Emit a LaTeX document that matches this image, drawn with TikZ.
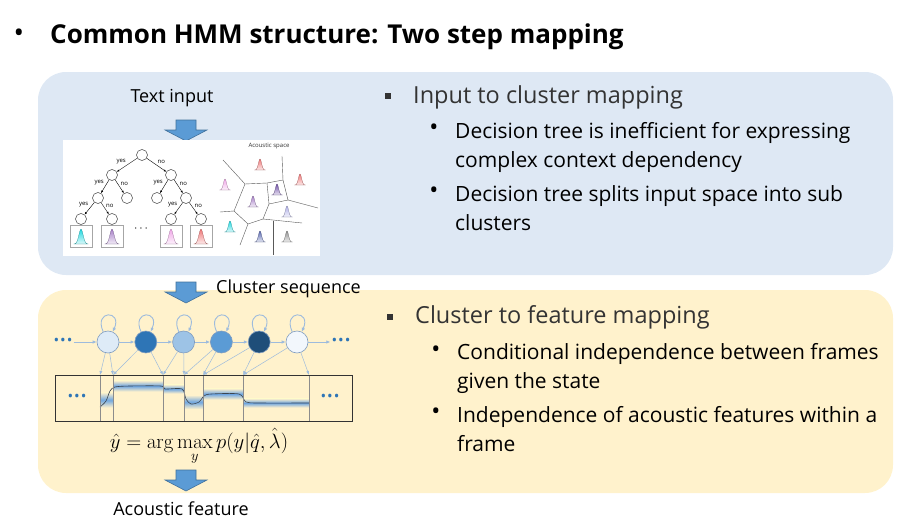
\documentclass[tikz,border=0pt]{standalone}
\usepackage[no-math]{fontspec}
\setmainfont{Open Sans}
\usepackage{amsmath}
\usetikzlibrary{arrows.meta}

\definecolor{panelblue}{HTML}{DEE8F4}
\definecolor{panelyellow}{HTML}{FFF2CC}
\definecolor{arrowfill}{HTML}{5B9BD5}
\definecolor{arrowline}{HTML}{41719C}
\definecolor{stateline}{HTML}{7F9CC0}
\definecolor{linkblue}{HTML}{9DBBDD}
\definecolor{dotblue}{HTML}{2E75B6}
\definecolor{bandblue}{HTML}{4A8FD8}
\definecolor{curvegray}{HTML}{3C4650}
\definecolor{st1}{HTML}{DEEBF7}
\definecolor{st2}{HTML}{2E75B6}
\definecolor{st3}{HTML}{9DC3E6}
\definecolor{st4}{HTML}{5B9BD5}
\definecolor{st5}{HTML}{1F4E79}
\definecolor{st6}{HTML}{F2F7FC}
\definecolor{gcyan}{HTML}{20D8E0}
\definecolor{gpurple}{HTML}{A880C8}
\definecolor{gpink}{HTML}{F0A8E8}
\definecolor{gsalmon}{HTML}{F07878}
\definecolor{gdeep}{HTML}{7050A8}
\definecolor{glav}{HTML}{B0B0E8}
\definecolor{gnavy}{HTML}{5868B0}
\definecolor{ggray}{HTML}{909090}

\tikzset{
  treenode/.style={circle, draw=black!75, fill=white, minimum size=11pt, inner sep=0pt, line width=0.5pt},
  treeedge/.style={-{Latex[length=2.5pt,width=2pt]}, line width=0.4pt},
  lbl/.style={font=\fontsize{6}{6}\selectfont, inner sep=1pt},
  leafbox/.style={draw=black!35, fill=white, minimum width=22pt, minimum height=22pt, inner sep=0pt},
  voronoi/.style={draw=black!65, line width=0.4pt},
  state/.style={circle, draw=stateline, minimum size=22pt, inner sep=0pt, line width=0.6pt},
  hmmarrow/.style={-{Latex[length=4pt,width=3.5pt]}, draw=linkblue, line width=0.9pt},
  maparrow/.style={-{Latex[length=4pt,width=3pt]}, draw=linkblue, line width=0.5pt},
  segline/.style={draw=black!45, line width=0.5pt},
  dotsnode/.style={text=dotblue, font=\fontsize{15}{15}\selectfont, inner sep=1pt},
  bul/.style={font=\fontsize{24}{24}\selectfont, inner sep=0pt},
  body/.style={anchor=base west, font=\fontsize{21}{24}\selectfont, inner sep=0pt},
  head/.style={anchor=base west, font=\fontsize{23.5}{28}\selectfont, text=black!80, inner sep=0pt},
  caption/.style={font=\fontsize{18}{21}\selectfont},
  sq/.style={fill=black!80, minimum size=5.5pt, inner sep=0pt},
  pics/blockarrow/.style={code={
    \filldraw[fill=arrowfill, draw=arrowline, line width=0.6pt]
      (-10,0) -- (10,0) -- (10,10) -- (21,10) -- (0,21) -- (-21,10) -- (-10,10) -- cycle;}},
}

% gaussian bump: [size], base x, base y, colour
\newcommand{\gbump}[4][1]{%
  \shade[top color=#4, bottom color=#4!15, draw=#4!60!black, line width=0.2pt]
    plot[domain=-5.5*#1:5.5*#1, samples=23] ({#2+\x},{#3-11*#1*exp(-(\x*\x)/(5*#1*#1))}) -- cycle;}

\begin{document}
\begin{tikzpicture}[x=1pt,y=-1pt]
\useasboundingbox (0,0) rectangle (916,530);

% title
\node[font=\fontsize{28}{28}\selectfont, inner sep=0pt] (tbullet) at (19,36) {•};
\node[anchor=base west, font=\bfseries\fontsize{26}{30}\selectfont, inner sep=0pt] (title) at (50,43) {Common HMM structure: Two step mapping};

% panels
\fill[panelblue, rounded corners=28pt] (38,72) rectangle (893,275);
\fill[panelyellow, rounded corners=28pt] (38,290) rectangle (893,493);

%% upper panel: input to cluster
\node[caption] (textin) at (172,98) {Text input};
\pic at (186,120) {blockarrow};
\fill[white] (63,140) rectangle (320,256);

\node[treenode] (root) at (142,155) {};
\node[treenode] (n1) at (112,175) {};
\node[treenode] (n2) at (171,175) {};
\node[treenode] (n11) at (98,198) {};
\node[treenode] (n12) at (127,198) {};
\node[treenode] (n21) at (157,198) {};
\node[treenode] (n22) at (186,198) {};
\node[treenode] (n111) at (81,219) {};
\node[treenode] (n112) at (112,219) {};
\node[treenode] (n221) at (171,219) {};
\node[treenode] (n222) at (201,219) {};
\foreach \p/\c/\l/\s [count=\i] in {root/n1/yes/above left, root/n2/no/above right,
    n1/n11/yes/above left, n1/n12/no/above right, n2/n21/yes/above left, n2/n22/no/above right,
    n11/n111/yes/above left, n11/n112/no/above right, n22/n221/yes/above left, n22/n222/no/above right}
  \draw[treeedge] (\p) -- node[lbl, \s, name=e\i] {\l} (\c);

\node[leafbox, anchor=north] (leafa) at (n111.south) {};
\node[leafbox, anchor=north] (leafb) at (n112.south) {};
\node[leafbox, anchor=north] (leafc) at (n221.south) {};
\node[leafbox, anchor=north] (leafd) at (n222.south) {};
\gbump[1.35]{81}{244}{gcyan}
\gbump[1.35]{112}{244}{gpurple}
\gbump[1.35]{171}{244}{gpink}
\gbump[1.35]{201}{244}{gsalmon}
\node[font=\fontsize{12}{12}\selectfont] (tdots) at (142,229) {$\cdots$};

% acoustic space
\node[font=\fontsize{6}{6}\selectfont, text=black!80] (aslabel) at (269,146) {Acoustic space};
\coordinate (v1) at (245,184);
\coordinate (v2) at (267,183);
\coordinate (v3) at (283,180);
\coordinate (v4) at (288,200);
\coordinate (v5) at (269,204);
\coordinate (v6) at (234,211);
\coordinate (v7) at (248,224);
\coordinate (v8) at (263,219);
\draw[voronoi] (223,160) -- (v1) -- (v2) -- (v3) -- (282,156);
\draw[voronoi] (v3) -- (v4) -- (318,208);
\draw[voronoi] (v4) -- (v5) -- (v2);
\draw[voronoi] (v1) -- (v6) -- (220,212);
\draw[voronoi] (v6) -- (v7) -- (v8) -- (v5);
\draw[voronoi] (v7) -- (240,245);
\draw[voronoi] (v8) -- (302,223);
\draw[voronoi] (273,221) -- (273,255);
\gbump{260}{170}{gsalmon}
\gbump{300}{185}{gsalmon}
\gbump{225}{190}{gpink}
\gbump{277}{195}{gdeep}
\gbump{253}{207}{gpurple}
\gbump{287}{217}{glav}
\gbump{230}{232}{gcyan}
\gbump{260}{242}{gnavy}
\gbump{287}{242}{ggray}

% upper panel text
\node[sq] (sqa) at (388,96) {};
\node[head] (heada) at (413,103) {Input to cluster mapping};
\node[bul] (ba1) at (434,130) {•};
\node[body] (ta1) at (455,138) {Decision tree is inefficient for expressing};
\node[body] (ta2) at (455,167) {complex context dependency};
\node[bul] (ba2) at (434,193) {•};
\node[body] (ta3) at (455,201) {Decision tree splits input space into sub};
\node[body] (ta4) at (455,230) {clusters};

%% lower panel: cluster to feature
\pic at (186,282) {blockarrow};
\node[caption, anchor=west, inner sep=0pt] (clseq) at (216,289) {Cluster sequence};

\foreach \i in {1,...,6}
  \node[state, fill=st\i] (s\i) at ({70.2+37.8*\i},342) {};
\foreach \i in {1,...,6}
  \draw[hmmarrow] (s\i.115) .. controls +(-10,-22) and +(10,-22) .. (s\i.65);
\node[dotsnode] (hl) at (63,342) {•\hspace{1pt}•\hspace{1pt}•};
\node[dotsnode] (hr) at (341,342) {•\hspace{1pt}•\hspace{1pt}•};
\draw[hmmarrow] (hl) -- (s1);
\foreach \i [evaluate=\i as \j using int(\i+1)] in {1,...,5}
  \draw[hmmarrow] (s\i) -- (s\j);
\draw[hmmarrow] (s6) -- (hr);

% feature trajectory
\foreach \xa/\xb/\yc/\h in {100/113/400/15, 113/163/386/11, 163/184/389/9,
    184/203/402/14, 203/243/394/11, 243/309/403/9}
  \shade[top color=panelyellow, bottom color=panelyellow, middle color=bandblue!80]
    (\xa,{\yc-\h/2}) rectangle (\xb,{\yc+\h/2});
\draw[curvegray, line width=0.6pt] plot[smooth, tension=0.5] coordinates {
  (100,407) (106,401) (110,391) (115,387) (130,386) (161,386) (165,389) (182,389)
  (186,399) (191,404) (199,402) (204,396) (211,394) (239,394) (246,402) (260,403) (309,403)};
\foreach \b/\x in {0/100, 1/113, 2/163, 3/184, 4/203, 5/243, 6/309} {
  \coordinate (b\b) at (\x,375);
  \draw[segline] (b\b) -- ++(0,46);
}
\node[draw=black!80, line width=0.7pt, minimum width=297pt, minimum height=46pt, inner sep=0pt, anchor=north west] (featbox) at (55,375) {};
\foreach \i/\l/\r in {1/0/1, 2/1/2, 3/2/3, 4/3/4, 5/4/5, 6/5/6} {
  \draw[maparrow] (s\i) -- (b\l);
  \draw[maparrow] (s\i) -- (b\r);
}
\node[dotsnode] (fl) at (77,398) {•\hspace{1pt}•\hspace{1pt}•};
\node[dotsnode] (fr) at (330,398) {•\hspace{1pt}•\hspace{1pt}•};

\node[font=\fontsize{21}{24}\selectfont] (formula) at (199,447)
  {$\hat{y} = \arg\max\limits_{y} p(y|\hat{q},\hat{\lambda})$};
\pic at (186,470) {blockarrow};
\node[caption] (acfeat) at (181,509) {Acoustic feature};

% lower panel text
\node[sq] (sqb) at (390,317) {};
\node[head] (headb) at (415,323) {Cluster to feature mapping};
\node[bul] (bb1) at (436,352) {•};
\node[body] (tb1) at (457,359) {Conditional independence between frames};
\node[body] (tb2) at (457,388) {given the state};
\node[bul] (bb2) at (436,414) {•};
\node[body] (tb3) at (457,422) {Independence of acoustic features within a};
\node[body] (tb4) at (457,451) {frame};
\end{tikzpicture}
\end{document}
